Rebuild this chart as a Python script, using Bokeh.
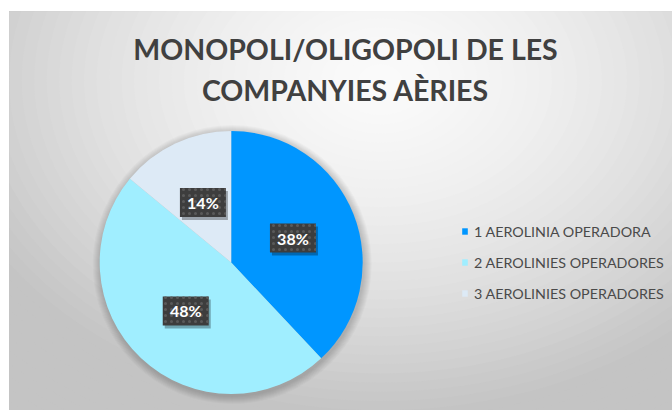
import numpy as np
from bokeh.plotting import figure
from bokeh.models import Range1d, ColumnDataSource, Legend, LegendItem, Label, BoxAnnotation
from bokeh.embed import file_html
from bokeh.resources import INLINE

# ---- data ----
categories = ["1 AEROLINIA OPERADORA", "2 AEROLINIES OPERADORES", "3 AEROLINIES OPERADORES"]
values = [38, 48, 14]
colors = ["#0096FF", "#A0EEFF", "#DDEAF6"]
title_lines = ["MONOPOLI/OLIGOPOLI DE LES", "COMPANYIES AÈRIES"]

W, H = 672, 410
p = figure(width=W, height=H, output_backend="svg", toolbar_location=None,
           x_range=Range1d(0, 663), y_range=Range1d(0, 399),
           x_axis_type=None, y_axis_type=None,
           min_border_left=9, min_border_top=11, min_border_right=0, min_border_bottom=0)
p.grid.visible = False
p.border_fill_color = "white"
p.background_fill_color = "#c6c6c6"
p.outline_line_color = "#c4c4c4"
p.outline_line_width = 1

# ---- background radial gradient (decorative) ----
gx, gy, ga, gb = 371, 330, 460, 340
rhos = np.linspace(1.35, 0.02, 50)
g_cols = []
for r in rhos:
    g = int(round(min(250, max(196, 250 - 55 * r ** 1.6))))
    g_cols.append("#%02x%02x%02x" % (g, g, g))
p.ellipse(x=[gx] * len(rhos), y=[gy] * len(rhos), width=list(2 * ga * rhos), height=list(2 * gb * rhos),
          fill_color=g_cols, line_color=None)

# ---- pie ----
cx, cy, R = 221.7, 148.0, 131.5
vals = np.array(values, dtype=float)
frac = vals / vals.sum()
cum = np.concatenate([[0], np.cumsum(frac)])
start = np.pi / 2 - 2 * np.pi * cum[:-1]
end = np.pi / 2 - 2 * np.pi * cum[1:]

# soft shadow
for k in range(8):
    p.circle(x=[cx + 1], y=[cy - 2], radius=R + 1 + k, fill_color="black", fill_alpha=0.025, line_color=None)

src = ColumnDataSource(dict(x=[cx] * 3, y=[cy] * 3, start=list(start), end=list(end),
                            color=colors, label=categories))
wr = p.wedge(x="x", y="y", radius=R, start_angle="start", end_angle="end", direction="clock",
             fill_color="color", line_color=None, source=src)

# data labels
mid = (cum[:-1] + cum[1:]) / 2
d = 0.505 * R
lx = cx + d * np.sin(2 * np.pi * mid)
ly = cy + d * np.cos(2 * np.pi * mid)
ltxt = ["%d%%" % v for v in values]
p.rect(x=list(lx + 2), y=list(ly - 3), width=46, height=29, width_units="screen", height_units="screen",
       fill_color="black", fill_alpha=0.3, line_color=None)
p.rect(x=list(lx), y=list(ly), width=46, height=29, width_units="screen", height_units="screen",
       fill_color="#3d3d3d", line_color=None, hatch_pattern="dot", hatch_color="#5a5a5a",
       hatch_scale=6, hatch_weight=1)
p.text(x=list(lx), y=list(ly), text=ltxt, text_align="center", text_baseline="middle",
       text_color="white", text_font_size="16px", text_font_style="bold", text_font={"value": "Lato"})

# ---- title ----
p.add_layout(Label(x=336, y=362, text=title_lines[0], text_align="center", text_baseline="alphabetic",
                   text_font="Lato", text_font_style="bold", text_font_size="28.5px", text_color="#404040"))
p.add_layout(Label(x=336, y=320.5, text=title_lines[1], text_align="center", text_baseline="alphabetic",
                   text_font="Lato", text_font_style="bold", text_font_size="28.5px", text_color="#404040"))

# ---- legend ----
p.add_layout(BoxAnnotation(left=442, right=663, bottom=99, top=195, fill_color="white",
                           fill_alpha=0.25, line_color=None, level="underlay"))
items = [LegendItem(label=categories[i], renderers=[wr], index=i) for i in range(3)]
leg = Legend(items=items, location=(452, 107), orientation="vertical",
             glyph_width=7, glyph_height=8, label_standoff=6, spacing=11, padding=0,
             label_text_font="Lato", label_text_font_size="14.3px", label_text_color="#4a4a4a",
             background_fill_alpha=0, border_line_alpha=0, label_height=20)
p.add_layout(leg)

open("out.html", "w").write(file_html(p, INLINE))
